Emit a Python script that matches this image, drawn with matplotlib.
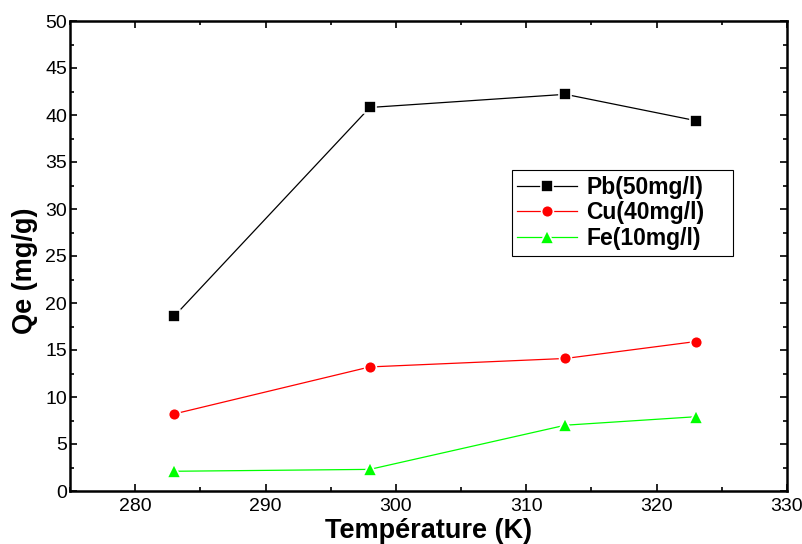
import numpy as np
import matplotlib.pyplot as plt
from matplotlib.ticker import MultipleLocator

# temperatures (K)
temperature = [283, 298, 313, 323]
# adsorption capacity Qe (mg/g)
qe_pb = [18.6, 40.8, 42.2, 39.4]
qe_cu = [8.2, 13.2, 14.1, 15.9]
qe_fe = [2.1, 2.3, 7.0, 7.9]
series_labels = ["Pb(50mg/l)", "Cu(40mg/l)", "Fe(10mg/l)"]

plt.rcParams['font.family'] = ['Liberation Sans', 'DejaVu Sans']

fig = plt.figure(figsize=(8.03, 5.44), dpi=100, facecolor='white')
ax = fig.add_axes([70/803, 1 - 491/544, 717/803, 470/544])

styles = [("black", "s", 8), ("red", "o", 8.5), ("#00ff00", "^", 10)]
for vals, lab, (c, m, ms) in zip([qe_pb, qe_cu, qe_fe], series_labels, styles):
    ax.plot(temperature, vals, color=c, lw=0.9, marker=m, ms=ms,
            mfc=c, mec='white', mew=1.2, label=lab)

ax.set_xlim(275, 330)
ax.set_ylim(0, 50)
ax.xaxis.set_major_locator(MultipleLocator(10))
ax.xaxis.set_minor_locator(MultipleLocator(5))
ax.yaxis.set_major_locator(MultipleLocator(5))
ax.yaxis.set_minor_locator(MultipleLocator(2.5))
ax.tick_params(which='both', direction='in', top=True, right=True,
               width=1.2, labelsize=14)
ax.tick_params(which='major', length=5)
ax.tick_params(which='minor', length=3)
ax.tick_params(axis='x', pad=5)
ax.tick_params(axis='y', pad=2)
for sp in ax.spines.values():
    sp.set_linewidth(1.8)

ax.set_xlabel("Température (K)", fontsize=19.5, fontweight='bold')
ax.set_ylabel("Qe (mg/g)", fontsize=19.5, fontweight='bold')
ax.xaxis.set_label_coords(0.5, -0.058)
ax.yaxis.set_label_coords(-0.045, 0.468)

# legend box spans roughly x 512-733, y 170-257 px in the reference
leg = ax.legend(loc='upper left', bbox_to_anchor=(0.616, 0.498, 0.309, 0.185),
                mode='expand', prop={'weight': 'bold', 'size': 16.5},
                fancybox=False, framealpha=1, edgecolor='black',
                handlelength=2.6, borderpad=0.25, labelspacing=0.12,
                handletextpad=0.4, borderaxespad=0)
leg.get_frame().set_linewidth(0.8)

plt.savefig("out.png", dpi=100, facecolor='white')
